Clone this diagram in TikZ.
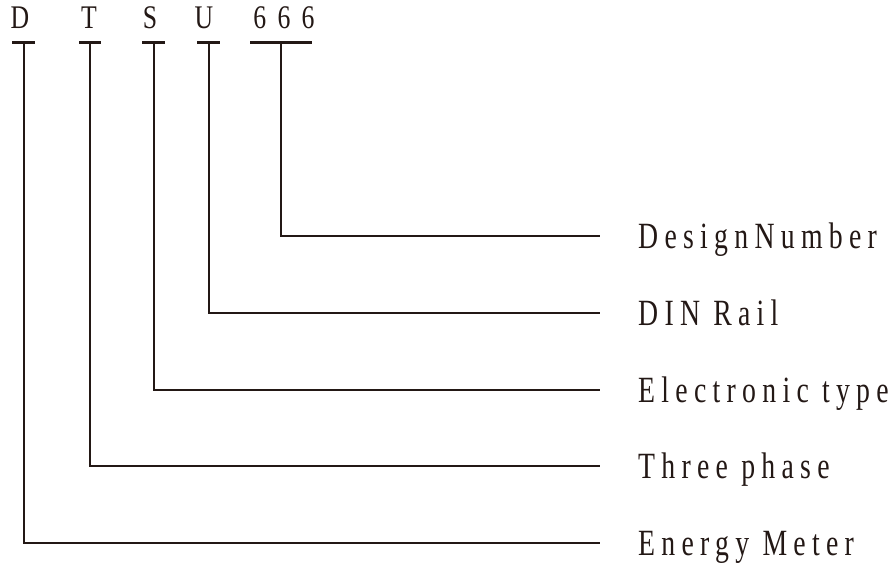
\documentclass[tikz,border=0pt]{standalone}
\usepackage{fontspec}
\newfontfamily\codefont[FakeStretch=0.78,LetterSpace=34]{Liberation Serif}
\newfontfamily\labelfont[FakeStretch=0.75,LetterSpace=17]{Liberation Serif}
\definecolor{ink}{RGB}{35,24,21}

\begin{document}
\begin{tikzpicture}[x=1pt,y=-1pt,
		code/.style={inner sep=0pt,anchor=base,text=ink,font=\codefont\fontsize{33}{33}\selectfont},
		lbl/.style={inner sep=0pt,anchor=base west,text=ink,font=\labelfont\fontsize{37}{37}\selectfont},
		bar/.style={draw=ink,line width=2.4pt},
		lead/.style={draw=ink,line width=2pt}]
		\useasboundingbox (0,0) rectangle (893,578);
		%%%%% CODE %%%%%
		\node[code] (d) at (20,29) {D};
		\node[code] (t) at (89,29) {T};
		\node[code] (s) at (150,29) {S};
		\node[code] (u) at (204,29) {U};
		\node[code] (num) at (284,29) {666};
		
		\coordinate (dtop) at (23.5,42.5);
		\coordinate (ttop) at (90,42.5);
		\coordinate (stop) at (153.5,42.5);
		\coordinate (utop) at (208.5,42.5);
		\coordinate (numtop) at (281,42.5);
		
		\draw[bar] ([xshift=-11.5pt]dtop) -- ([xshift=11.5pt]dtop);
		\draw[bar] ([xshift=-11pt]ttop) -- ([xshift=11pt]ttop);
		\draw[bar] ([xshift=-11.5pt]stop) -- ([xshift=11.5pt]stop);
		\draw[bar] ([xshift=-11.5pt]utop) -- ([xshift=11.5pt]utop);
		\draw[bar] ([xshift=-31pt]numtop) -- ([xshift=31pt]numtop);
		
		%%%%% LEADS %%%%%
		\coordinate (numend) at (600,236);
		\coordinate (uend) at (600,313);
		\coordinate (send) at (600,390);
		\coordinate (tend) at (600,466);
		\coordinate (dend) at (600,543);
		
		\draw[lead] (numtop) |- (numend);
		\draw[lead] (utop) |- (uend);
		\draw[lead] (stop) |- (send);
		\draw[lead] (ttop) |- (tend);
		\draw[lead] (dtop) |- (dend);
		
		\node[lbl] (design) at ([shift={(38,12)}]numend) {DesignNumber};
		\node[lbl] (rail) at ([shift={(38,12)}]uend) {DIN Rail};
		\node[lbl] (elec) at ([shift={(38,12)}]send) {Electronic type};
		\node[lbl] (phase) at ([shift={(38,12)}]tend) {Three phase};
		\node[lbl] (meter) at ([shift={(38,12)}]dend) {Energy Meter};
		%%%%% END %%%%%
\end{tikzpicture}
\end{document}
